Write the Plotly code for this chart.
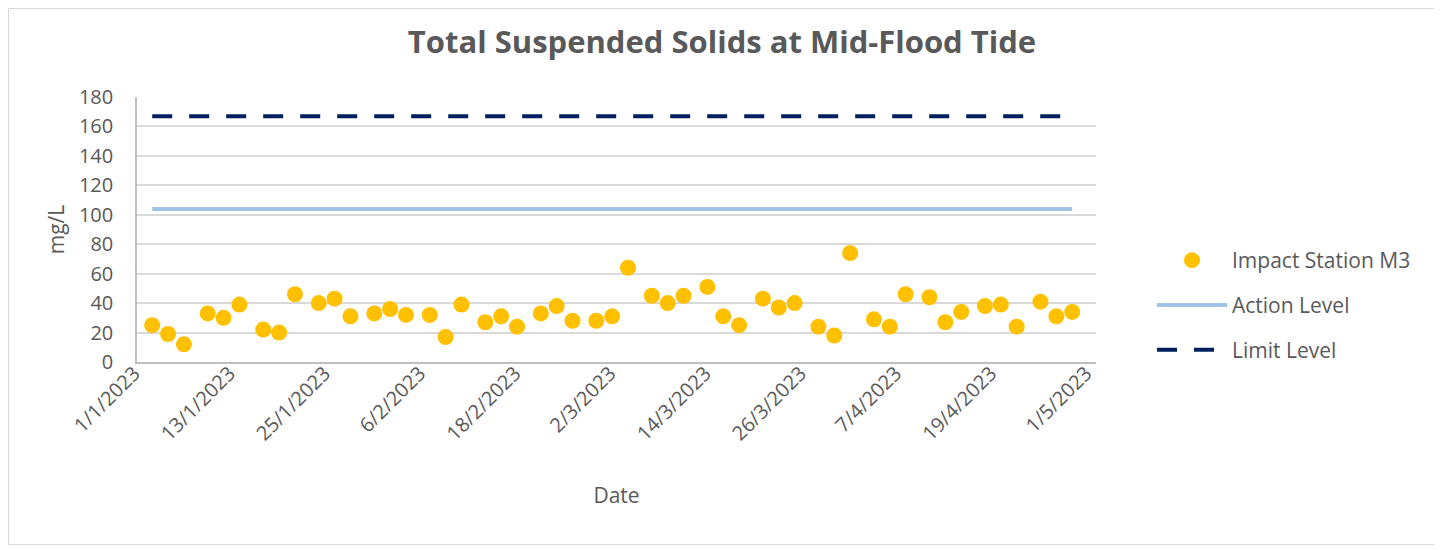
import plotly.graph_objects as go

dates = [
    "2023-01-02", "2023-01-04", "2023-01-06", "2023-01-09", "2023-01-11", "2023-01-13",
    "2023-01-16", "2023-01-18", "2023-01-20", "2023-01-23", "2023-01-25", "2023-01-27",
    "2023-01-30", "2023-02-01", "2023-02-03", "2023-02-06", "2023-02-08", "2023-02-10",
    "2023-02-13", "2023-02-15", "2023-02-17", "2023-02-20", "2023-02-22", "2023-02-24",
    "2023-02-27", "2023-03-01", "2023-03-03", "2023-03-06", "2023-03-08", "2023-03-10",
    "2023-03-13", "2023-03-15", "2023-03-17", "2023-03-20", "2023-03-22", "2023-03-24",
    "2023-03-27", "2023-03-29", "2023-03-31", "2023-04-03", "2023-04-05", "2023-04-07",
    "2023-04-10", "2023-04-12", "2023-04-14", "2023-04-17", "2023-04-19", "2023-04-21",
    "2023-04-24", "2023-04-26", "2023-04-28",
]
impact_m3 = [
    25, 19, 12, 33, 30, 39,
    22, 20, 46, 40, 43, 31,
    33, 36, 32, 32, 17, 39,
    27, 31, 24, 33, 38, 28,
    28, 31, 64, 45, 40, 45,
    51, 31, 25, 43, 37, 40,
    24, 18, 74, 29, 24, 46,
    44, 27, 34, 38, 39, 24,
    41, 31, 34,
]
action_level = [104] * len(dates)
limit_level = [167] * len(dates)

tick_dates = ["2023-01-01", "2023-01-13", "2023-01-25", "2023-02-06", "2023-02-18",
              "2023-03-02", "2023-03-14", "2023-03-26", "2023-04-07", "2023-04-19",
              "2023-05-01"]
tick_labels = ["1/1/2023", "13/1/2023", "25/1/2023", "6/2/2023", "18/2/2023",
               "2/3/2023", "14/3/2023", "26/3/2023", "7/4/2023", "19/4/2023",
               "1/5/2023"]
y_ticks = [0, 20, 40, 60, 80, 100, 120, 140, 160, 180]

FONT = "Open Sans"
TXT = "#595959"

fig = go.Figure()
fig.add_trace(go.Scatter(
    x=dates, y=impact_m3, mode="markers", name="Impact Station M3",
    marker=dict(color="#FFC000", size=16, line=dict(width=0)),
    legendgroup="a",
))
fig.add_trace(go.Scatter(
    x=dates, y=action_level, mode="lines", name="Action Level",
    line=dict(color="#9DC3E6", width=4),
    legendgroup="b",
))
fig.add_trace(go.Scatter(
    x=dates, y=limit_level, mode="lines", name="Limit Level",
    line=dict(color="#002060", width=4, dash="20px,17px"),
    legendgroup="c",
))

# page offset (browser body margin) compensation
OFF = 8
W, H = 1442, 550
L, R, T, B = 137 - OFF, 1096 - OFF, 97 - OFF, 362 - OFF


def px_x(p):
    return (p - OFF - L) / (R - L)


def px_y(p):
    return (B - (p - OFF)) / (B - T)


fig.add_shape(type="rect", xref="paper", yref="paper",
              x0=px_x(OFF + 0.5), x1=px_x(1440.5), y0=px_y(544.5), y1=px_y(OFF + 0.5),
              line=dict(color="#D9D9D9", width=1), fillcolor="rgba(0,0,0,0)", layer="below")

fig.update_layout(
    width=W, height=H,
    margin=dict(l=L, r=W - R, t=T, b=H - B),
    paper_bgcolor="white", plot_bgcolor="white",
    font=dict(family=FONT, color=TXT, size=20),
    title=dict(text="<b>Total Suspended Solids at Mid-Flood Tide</b>",
               x=(722 - OFF) / W, xanchor="center", y=1 - (42 - OFF) / H, yanchor="middle",
               font=dict(family=FONT, size=31, color=TXT)),
    showlegend=True,
    legend=dict(x=px_x(1152), xanchor="left", y=px_y(240), yanchor="top",
                font=dict(family=FONT, size=21, color=TXT),
                tracegroupgap=14.5, itemwidth=70, bgcolor="rgba(0,0,0,0)"),
    xaxis=dict(
        type="date",
        range=["2022-12-31 02:00", "2023-05-01 00:00"],
        tickmode="array", tickvals=tick_dates, ticktext=tick_labels,
        tickangle=-45, tickfont=dict(family=FONT, size=20, color=TXT),
        ticklabelstandoff=-10, ticklabelshift=-10,
        showgrid=False, showline=True, linecolor="#BFBFBF", linewidth=1.5,
        ticks="", zeroline=False,
        title=dict(text="Date", font=dict(family=FONT, size=21, color=TXT), standoff=43),
    ),
    yaxis=dict(
        range=[0, 180], tickmode="array", tickvals=y_ticks,
        tickfont=dict(family=FONT, size=20, color=TXT),
        showgrid=True, gridcolor="#D9D9D9", gridwidth=1.5,
        showline=True, linecolor="#BFBFBF", linewidth=1.5,
        ticks="", zeroline=False, ticklabelstandoff=18,
        title=dict(text="mg/L", font=dict(family=FONT, size=21, color=TXT), standoff=9),
    ),
)

fig.write_html("out.html")
